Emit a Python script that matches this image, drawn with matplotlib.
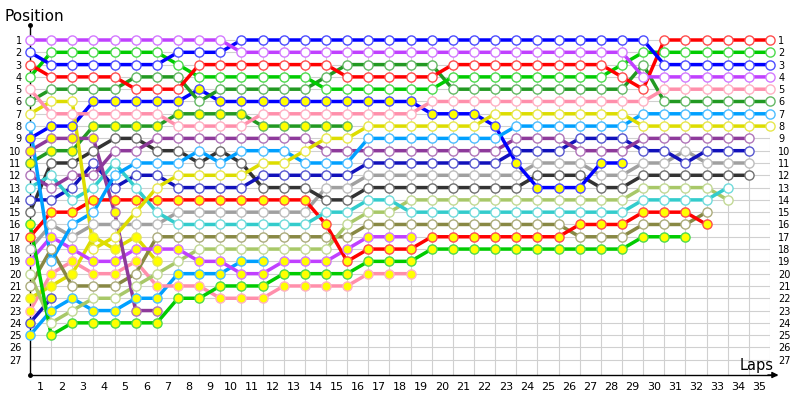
import matplotlib
matplotlib.use("Agg")
import matplotlib.pyplot as plt
from matplotlib.colors import to_rgb

# ---------------- data: race position per lap (lap 0 = grid) ----------------
violet = [1, 1, 1, 1, 1, 1, 1, 1, 1, 1,
          2, 2, 2, 2, 2, 2, 2, 2, 2, 2,
          2, 2, 2, 2, 2, 2, 2, 2, 2, 4,
          4, 4, 4, 4, 4, 4]
blue = [2, 3, 3, 3, 3, 3, 3, 2, 2, 2,
        1, 1, 1, 1, 1, 1, 1, 1, 1, 1,
        1, 1, 1, 1, 1, 1, 1, 1, 1, 1,
        3, 3, 3, 3, 3, 3]
red = [3, 4, 4, 4, 4, 5, 5, 5, 3, 3,
       3, 3, 3, 3, 3, 4, 4, 4, 4, 4,
       3, 3, 3, 3, 3, 3, 3, 3, 4, 5,
       1, 1, 1, 1, 1, 1]
bright_green = [4, 2, 2, 2, 2, 2, 2, 3, 4, 4,
                4, 4, 4, 4, 5, 5, 5, 5, 5, 5,
                4, 4, 4, 4, 4, 4, 4, 4, 3, 2,
                2, 2, 2, 2, 2, 2]
pink = [5, 7, 7, 7, 7, 7, 7, 8, 8, 8,
        8, 7, 7, 7, 7, 7, 7, 7, 7, 6,
        6, 6, 6, 6, 6, 6, 6, 6, 6, 6,
        5, 5, 5, 5, 5, 5]
dark_green = [6, 5, 5, 5, 5, 4, 4, 4, 6, 5,
              5, 5, 5, 5, 4, 3, 3, 3, 3, 3,
              5, 5, 5, 5, 5, 5, 5, 5, 5, 3,
              6, 6, 6, 6, 6, 6]
yellow = [7, 6, 6, 18, 17, 15, 13, 12, 12, 12,
          12, 11, 11, 10, 9, 9, 8, 8, 8, 8,
          8, 8, 7, 7, 7, 7, 7, 7, 7, 8,
          8, 8, 8, 8, 8, 8]
light_blue = [8, 19, 16, 15, 12, 11, 11, 11, 10, 11,
              10, 10, 10, 11, 11, 11, 9, 9, 9, 9,
              9, 9, 9, 8, 8, 8, 8, 8, 8, 7,
              7, 7, 7, 7, 7, 7]
blue_b = [9, 8, 8, 6, 6, 6, 6, 6, 5, 6,
          6, 6, 6, 6, 6, 6, 6, 6, 6, 7,
          7, 7, 8, 11, 13, 13, 13, 11, 11]
purple_b = [10, 9, 9, 9, 15, 23, 23]
dark_green_b = [11, 10, 10, 8, 8, 8, 8, 7, 7, 7,
                7, 8, 8, 8, 8, 8]
purple = [12, 13, 12, 12, 10, 10, 9, 9, 9, 9,
          9, 9, 9, 9, 10, 10, 10, 10, 10, 10,
          10, 10, 10, 9, 9, 9, 10, 10, 10, 9,
          9, 9, 9, 9, 9]
cyan = [13, 12, 14, 13, 11, 13, 15, 16, 16, 16,
        16, 16, 16, 16, 15, 15, 14, 14, 15, 15,
        15, 15, 15, 15, 15, 15, 15, 15, 15, 14,
        14, 14, 14, 13]
navy = [14, 14, 13, 11, 13, 12, 12, 13, 13, 13,
        13, 12, 12, 12, 12, 12, 11, 11, 11, 11,
        11, 11, 11, 10, 10, 10, 9, 9, 9, 10,
        10, 11, 10, 10, 10]
dark_grey = [15, 11, 11, 10, 9, 9, 10, 10, 11, 10,
             11, 13, 13, 13, 14, 14, 13, 13, 13, 13,
             13, 13, 13, 13, 12, 12, 12, 13, 13, 12,
             12, 12, 12, 12, 12]
bright_green_b = [16, 25, 24, 24, 24, 24, 24, 22, 22, 21,
                  21, 21, 20, 20, 20, 20, 19, 19, 19, 18,
                  18, 18, 18, 18, 18, 18, 18, 18, 18, 17,
                  17, 17]
red_b = [17, 15, 15, 14, 14, 14, 14, 14, 14, 14,
         14, 14, 14, 14, 16, 19, 18, 18, 18, 17,
         17, 17, 17, 17, 17, 17, 16, 16, 16, 15,
         15, 15, 16]
light_grey = [18, 16, 17, 16, 16, 16, 16, 15, 15, 15,
              15, 15, 15, 15, 13, 13, 12, 12, 12, 12,
              12, 12, 12, 12, 11, 11, 11, 12, 12, 11,
              11, 10, 11, 11, 11]
violet_b = [19, 17, 18, 19, 19, 18, 18, 18, 19, 19,
            20, 20, 19, 19, 19, 18, 17, 17, 17]
lime = [20, 24, 23, 22, 22, 21, 20, 19, 18, 18,
        18, 18, 18, 18, 18, 16, 15, 15, 14, 14,
        14, 14, 14, 14, 14, 14, 14, 14, 14, 13,
        13, 13, 13, 14]
olive = [21, 18, 21, 21, 21, 20, 17, 17, 17, 17,
         17, 17, 17, 17, 17, 17, 16, 16, 16, 16,
         16, 16, 16, 16, 16, 16, 17, 17, 17, 16,
         16, 16, 15]
yellow_b = [22, 21, 20, 17, 18, 17, 19]
pink_b = [23, 20, 19, 20, 20, 19, 21, 21, 21, 22,
          22, 22, 21, 21, 21, 21, 20, 20, 20]
navy_b = [24, 22]
light_blue_b = [25, 23, 22, 23, 23, 22, 22, 20, 20, 20, 19, 19]

lap_labels = [str(k) for k in range(1, 36)]
position_labels = [str(k) for k in range(1, 28)]

# ---------------- styles ----------------
WHITE, YEL = "#ffffff", "#ffff00"
drivers = [
    (violet, "#c040ff", WHITE),
    (blue, "#0000ff", WHITE),
    (red, "#ff0000", WHITE),
    (bright_green, "#00cc00", WHITE),
    (pink, "#ff8fab", WHITE),
    (dark_green, "#229922", WHITE),
    (yellow, "#dddd00", WHITE),
    (light_blue, "#00a0ff", WHITE),
    (blue_b, "#0000ff", YEL),
    (purple_b, "#8e3a9b", YEL),
    (dark_green_b, "#229922", YEL),
    (purple, "#8e3a9b", WHITE),
    (cyan, "#33cccc", WHITE),
    (navy, "#1111bb", WHITE),
    (dark_grey, "#333333", WHITE),
    (bright_green_b, "#00cc00", YEL),
    (red_b, "#ff0000", YEL),
    (light_grey, "#a0a0a0", WHITE),
    (violet_b, "#c040ff", YEL),
    (lime, "#a8c868", WHITE),
    (olive, "#888844", WHITE),
    (yellow_b, "#dddd00", YEL),
    (pink_b, "#ff8fab", YEL),
    (navy_b, "#1111bb", YEL),
    (light_blue_b, "#00a0ff", YEL),
]


def lighten(c, f=0.3):
    r, g, b = to_rgb(c)
    return (r + (1 - r) * f, g + (1 - g) * f, b + (1 - b) * f)


P_TOP, P_BOT = -0.22, 28.24
N_LAPS = 35

fig = plt.figure(figsize=(8, 4), dpi=100)
ax = fig.add_axes([30 / 800, 25 / 400, 740 / 800, 350 / 400])
ax.set_xlim(0, N_LAPS)
ax.set_ylim(P_BOT, P_TOP)
for s in ax.spines.values():
    s.set_visible(False)

# grid
for p in range(1, 28):
    ax.plot([0, N_LAPS], [p, p], color="#d0d0d0", lw=0.8, zorder=0)
for k in range(1, N_LAPS + 1):
    ax.plot([k, k], [1, P_BOT], color="#d0d0d0", lw=0.8, zorder=0)

# axes lines
ax.plot([0, 0], [P_BOT, P_TOP], color="black", lw=1.0, clip_on=False, zorder=1)
ax.plot([0, 35.3], [P_BOT, P_BOT], color="black", lw=1.0, clip_on=False, zorder=1)
ax.plot([0], [P_TOP], marker="o", ms=2.5, color="black", clip_on=False, zorder=1)
ax.plot([0], [P_BOT], marker="o", ms=2.5, color="black", clip_on=False, zorder=1)
ax.annotate("", xy=(35.4, P_BOT), xytext=(34.9, P_BOT),
            arrowprops=dict(arrowstyle="-|>", color="black", lw=1.0,
                            mutation_scale=9, shrinkA=0, shrinkB=0),
            annotation_clip=False)

# series
for pos, col, fill in reversed(drivers):
    laps = list(range(len(pos)))
    ax.plot(laps, pos, color=col, lw=2.5, solid_capstyle="round",
            zorder=2, clip_on=False)
for pos, col, fill in reversed(drivers):
    laps = list(range(len(pos)))
    ax.plot(laps, pos, linestyle="none", marker="o", ms=6.6,
            mfc=fill, mec=lighten(col), mew=1.0, zorder=3, clip_on=False)

# ticks
ax.set_xticks([k - 0.5 for k in range(1, N_LAPS + 1)])
ax.set_xticklabels(lap_labels, fontsize=8)
ax.set_yticks(list(range(1, 28)))
ax.set_yticklabels(position_labels, fontsize=7)
ax.tick_params(axis="x", length=0, pad=5)
ax.tick_params(axis="y", length=0, pad=6, labelleft=True, labelright=True)

fig.text(4 / 800, 1 - 21 / 400, "Position", fontsize=11, ha="left",
         va="baseline")
fig.text(774 / 800, 1 - 370 / 400, "Laps", fontsize=10.5, ha="right",
         va="baseline")

fig.savefig("out.png", dpi=100)
